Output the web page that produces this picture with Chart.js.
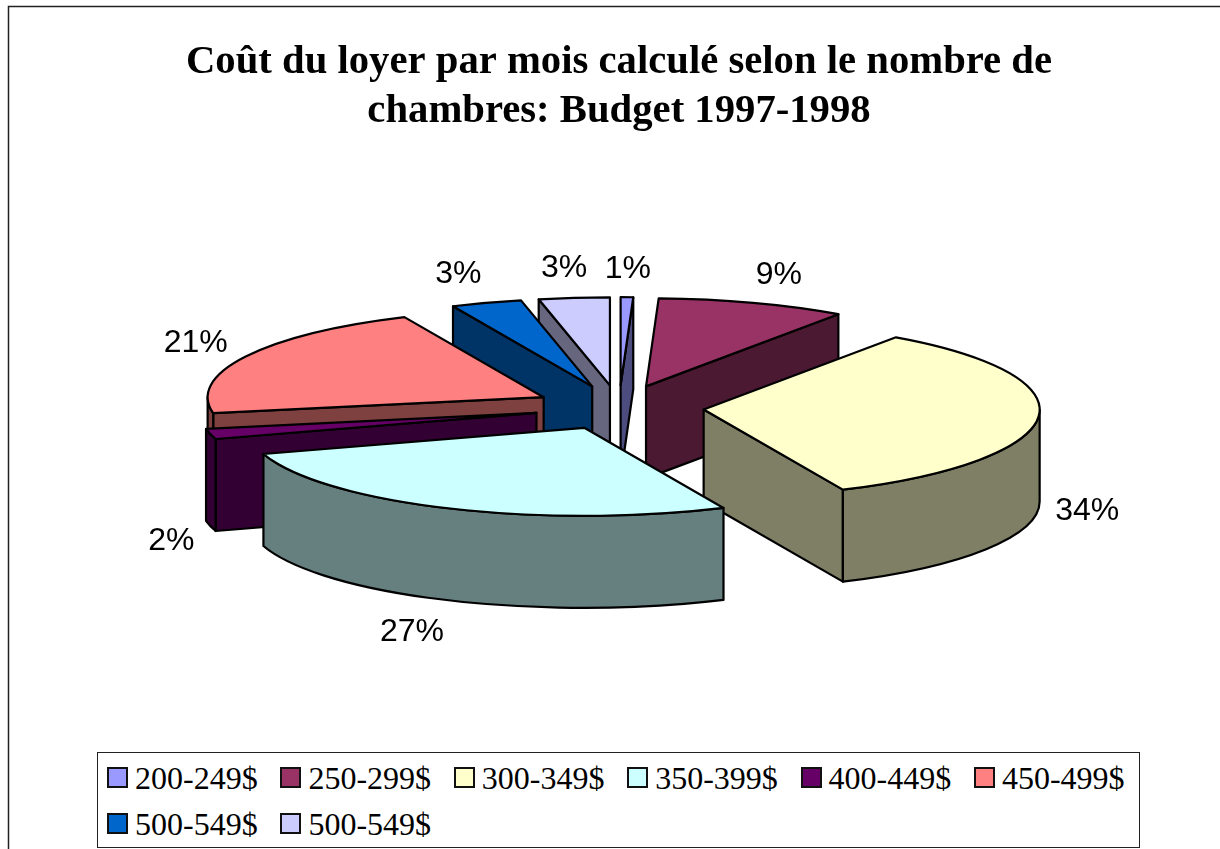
<!DOCTYPE html>
<html lang="fr">
<head>
<meta charset="utf-8">
<title>Coût du loyer</title>
<script src="https://cdn.jsdelivr.net/npm/chart.js@4/dist/chart.umd.min.js"></script>
<style>
  html, body { margin: 0; padding: 0; background: #fff; overflow: hidden; }
  #wrap { position: relative; width: 1220px; height: 849px; }
  canvas { display: block; }
  #legend {
    position: absolute; left: 97px; top: 752px; width: 1041px; height: 94px;
    border: 1px solid #222; background: #fff; box-sizing: content-box;
    display: grid; grid-template-columns: repeat(6, 173.4px); grid-auto-rows: 46.5px;
    padding: 0; font: 32px "Liberation Serif", serif; color: #000;
  }
  #legend .item { display: flex; align-items: center; white-space: nowrap; padding-left: 9px; padding-top: 2px; }
  #legend .swatch { width: 17px; height: 17px; border: 2px solid #111; margin-right: 7px; flex: none; }
  #legend .text { position: relative; top: 1px; }
</style>
</head>
<body>
<div id="wrap">
  <canvas id="rentChart" width="1220" height="849"></canvas>
  <div id="legend"></div>
</div>
<script>
  // ---------------- DATA ----------------
  const titleLines = ["Coût du loyer par mois calculé selon le nombre de", "chambres: Budget 1997-1998"];
  const rentRanges = ["200-249$", "250-299$", "300-349$", "350-399$", "400-449$", "450-499$", "500-549$", "500-549$"];
  const shares = [0.6, 9.1, 33.5, 27.0, 1.9, 21.1, 3.4, 3.4]; // labels show these rounded
  const sliceColors = ["#9999FF", "#993366", "#FFFFCC", "#CCFFFF", "#660066", "#FF8080", "#0066CC", "#CCCCFF"];

  // ---------------- 3D LOOK ----------------
  const pieCenterY = 407.5;
  const tilt = 0.262;
  const depth = 92;
  const explode = 85;
  const pieRadius = 336;
  const paintOrder = [0, 7, 1, 6, 5, 4, 2, 3]; // back to front
  const labelNudge = [[1, -28], [26, -28], [49, 94], [-35, 124], [-39, 107], [-50, -13], [-28, -29], [-10, -30]];

  function darken(hex) {
    const n = parseInt(hex.slice(1), 16);
    return `rgb(${(n >> 16) >> 1},${((n >> 8) & 255) >> 1},${(n & 255) >> 1})`;
  }

  const pie3d = {
    id: "pie3d",
    beforeDraw(chart) {
      const { ctx } = chart;
      ctx.save();
      ctx.strokeStyle = "#222";
      ctx.lineWidth = 1.5;
      ctx.beginPath();
      ctx.moveTo(8.5, 849);
      ctx.lineTo(8.5, 6.5);
      ctx.lineTo(1220, 6.5);
      ctx.stroke();
      ctx.restore();
    },
    beforeDatasetDraw(chart, args) {
      const { ctx } = chart;
      const arcs = args.meta.data;

      paintOrder.forEach(i => {
        const arc = arcs[i];
        const { x, y, startAngle, endAngle, outerRadius } = arc.getProps(["x", "y", "startAngle", "endAngle", "outerRadius"]);
        const mid = (startAngle + endAngle) / 2;
        const vx = x + Math.cos(mid) * explode;
        const vy = pieCenterY + Math.sin(mid) * explode * tilt;
        const rimX = a => vx + Math.cos(a) * outerRadius;
        const rimY = a => vy + Math.sin(a) * outerRadius * tilt;

        ctx.save();
        ctx.lineWidth = 2.2;
        ctx.lineJoin = "round";
        ctx.strokeStyle = "#000";
        ctx.fillStyle = darken(sliceColors[i]);

        // cut faces, skipping the ones turned away from the viewer
        const faces = [];
        if (Math.cos(startAngle) < 0) faces.push(startAngle);
        if (Math.cos(endAngle) > 0) faces.push(endAngle);
        faces.forEach(a => {
          ctx.beginPath();
          ctx.moveTo(vx, vy);
          ctx.lineTo(rimX(a), rimY(a));
          ctx.lineTo(rimX(a), rimY(a) + depth);
          ctx.lineTo(vx, vy + depth);
          ctx.closePath();
          ctx.fill();
          ctx.stroke();
        });

        // outer wall, only the part facing the viewer
        const from = Math.max(startAngle, 0);
        const to = Math.min(endAngle, Math.PI);
        if (to > from) {
          ctx.beginPath();
          ctx.ellipse(vx, vy, outerRadius, outerRadius * tilt, 0, from, to);
          ctx.ellipse(vx, vy + depth, outerRadius, outerRadius * tilt, 0, to, from, true);
          ctx.closePath();
          ctx.fill();
          ctx.stroke();
        }
        ctx.restore();

        // top face, drawn by the arc element itself
        ctx.save();
        ctx.translate(vx, vy);
        ctx.scale(1, tilt);
        ctx.translate(-x, -y);
        arc.draw(ctx);
        ctx.restore();

        ctx.save();
        ctx.lineWidth = 2.2;
        ctx.lineJoin = "round";
        ctx.strokeStyle = "#000";
        ctx.beginPath();
        ctx.moveTo(vx, vy);
        ctx.ellipse(vx, vy, outerRadius, outerRadius * tilt, 0, startAngle, endAngle);
        ctx.closePath();
        ctx.stroke();
        ctx.restore();
      });

      // percent labels
      ctx.save();
      ctx.font = '32px "Liberation Sans", sans-serif';
      ctx.fillStyle = "#000";
      ctx.textAlign = "center";
      ctx.textBaseline = "middle";
      arcs.forEach((arc, i) => {
        const mid = (arc.startAngle + arc.endAngle) / 2;
        const reach = arc.outerRadius + explode;
        const lx = arc.x + Math.cos(mid) * reach + labelNudge[i][0];
        const ly = pieCenterY + Math.sin(mid) * reach * tilt + labelNudge[i][1];
        ctx.fillText(Math.round(shares[i]) + "%", lx, ly);
      });
      ctx.restore();

      return false;
    }
  };

  const chart = new Chart(document.getElementById("rentChart"), {
    type: "pie",
    plugins: [pie3d],
    data: {
      labels: rentRanges,
      datasets: [{
        data: shares,
        backgroundColor: sliceColors,
        borderWidth: 0
      }]
    },
    options: {
      responsive: false,
      animation: false,
      radius: pieRadius,
      layout: { padding: { left: 18, top: 27.5 } },
      plugins: {
        legend: { display: false },
        tooltip: { enabled: false },
        title: {
          display: true,
          text: titleLines,
          color: "#000",
          font: { family: '"Liberation Serif", serif', size: 40.7, weight: "bold", lineHeight: 1.21 }
        }
      }
    }
  });

  // ---------------- HTML LEGEND ----------------
  const legendEl = document.getElementById("legend");
  chart.data.labels.forEach((label, i) => {
    const item = document.createElement("div");
    item.className = "item";
    item.innerHTML = `<span class="swatch" style="background:${sliceColors[i]}"></span><span class="text">${label}</span>`;
    legendEl.appendChild(item);
  });
</script>
</body>
</html>
